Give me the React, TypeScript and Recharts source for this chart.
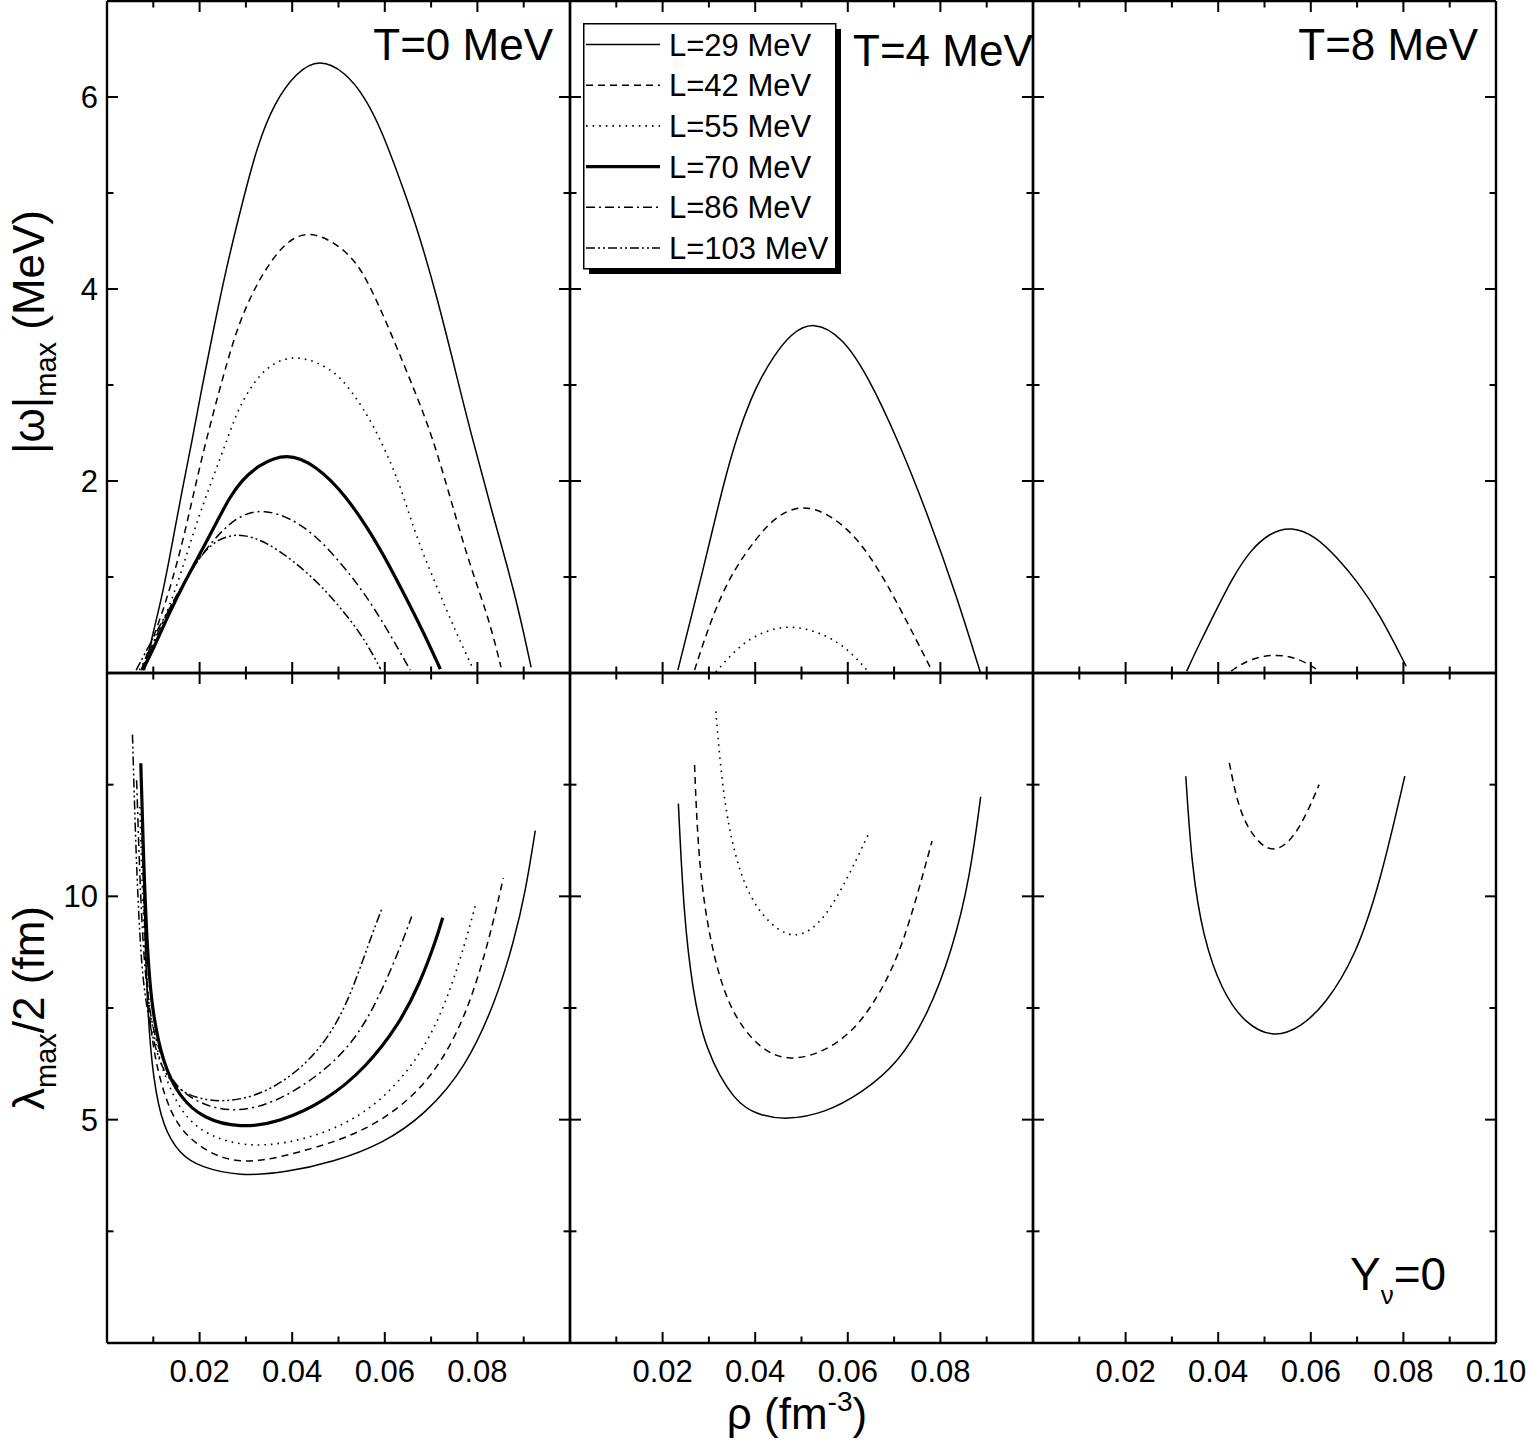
// App.tsx
import React from "react";
import { LineChart, Line, XAxis, YAxis, Legend } from "recharts";

type Pt = [number, number];

// |omega|_max (MeV) against rho (fm^-3)
const omegaT0L29: Pt[] = [
  [0.0081, 0.03], [0.0099, 0.41], [0.012, 0.82], [0.0141, 1.35], [0.0162, 1.9],
  [0.0183, 2.4], [0.0204, 2.95], [0.0231, 3.6], [0.0258, 4.23], [0.0296, 4.97],
  [0.0324, 5.48], [0.036, 5.93], [0.0409, 6.26], [0.0459, 6.4], [0.0515, 6.26],
  [0.0557, 6.0], [0.0593, 5.66], [0.0642, 5.02], [0.0675, 4.55], [0.0711, 3.95],
  [0.0755, 3.1], [0.0783, 2.55], [0.0829, 1.72], [0.0882, 0.82], [0.0916, 0.06],
];
const omegaT0L42: Pt[] = [
  [0.0074, 0.03], [0.0084, 0.17], [0.012, 0.62], [0.0162, 1.31], [0.0204, 2.25],
  [0.0254, 3.15], [0.0283, 3.62], [0.0315, 3.97], [0.0344, 4.22], [0.0387, 4.5],
  [0.0441, 4.62], [0.0517, 4.41], [0.056, 4.13], [0.0617, 3.5], [0.0667, 2.91],
  [0.0703, 2.46], [0.0743, 1.8], [0.0783, 1.13], [0.0826, 0.55], [0.0851, 0.06],
];
const omegaT0L55: Pt[] = [
  [0.007, 0.03], [0.0113, 0.41], [0.0155, 0.96], [0.019, 1.52], [0.0226, 2.0],
  [0.0261, 2.45], [0.0287, 2.8], [0.033, 3.12], [0.0373, 3.27], [0.042, 3.3],
  [0.0488, 3.17], [0.0531, 2.92], [0.0574, 2.6], [0.0617, 2.15], [0.064, 1.85],
  [0.0671, 1.38], [0.0713, 0.89], [0.0755, 0.41], [0.0789, 0.06],
];
const omegaT0L70: Pt[] = [
  [0.0077, 0.03], [0.0099, 0.24], [0.0134, 0.62], [0.0169, 0.96], [0.0204, 1.27],
  [0.024, 1.6], [0.0265, 1.83], [0.029, 2.0], [0.0325, 2.16], [0.0388, 2.3],
  [0.0452, 2.16], [0.0515, 1.86], [0.0586, 1.34], [0.0642, 0.82], [0.0685, 0.41],
  [0.072, 0.04],
];
const omegaT0L86: Pt[] = [
  [0.0074, 0.03], [0.0134, 0.69], [0.0197, 1.2], [0.0254, 1.52], [0.0296, 1.66],
  [0.0339, 1.7], [0.0395, 1.62], [0.0452, 1.43], [0.0508, 1.13], [0.0558, 0.82],
  [0.0607, 0.44], [0.0655, 0.03],
];
const omegaT0L103: Pt[] = [
  [0.0063, 0.03], [0.012, 0.55], [0.0169, 0.96], [0.0204, 1.24], [0.024, 1.4],
  [0.0289, 1.46], [0.0346, 1.36], [0.0402, 1.17], [0.0459, 0.93], [0.0515, 0.62],
  [0.0558, 0.34], [0.0591, 0.04],
];
const omegaT4L29: Pt[] = [
  [0.0233, 0.03], [0.0271, 0.76], [0.0299, 1.31], [0.0334, 2.02], [0.0363, 2.5],
  [0.0391, 2.86], [0.0412, 3.07], [0.044, 3.3], [0.0476, 3.53], [0.0525, 3.67],
  [0.0589, 3.5], [0.0645, 3.08], [0.0709, 2.42], [0.0772, 1.66], [0.0836, 0.79],
  [0.0886, 0.01],
];
const omegaT4L42: Pt[] = [
  [0.0269, 0.03], [0.0306, 0.58], [0.0348, 1.03], [0.0398, 1.38], [0.0447, 1.65],
  [0.0511, 1.77], [0.0589, 1.57], [0.0652, 1.21], [0.0716, 0.65], [0.0781, 0.03],
];
const omegaT4L55: Pt[] = [
  [0.0315, 0.01], [0.037, 0.31], [0.0426, 0.45], [0.0483, 0.5], [0.0553, 0.4],
  [0.0603, 0.24], [0.0645, 0.01],
];
const omegaT8L29: Pt[] = [
  [0.0332, 0.02], [0.036, 0.31], [0.0396, 0.66], [0.0432, 1.0], [0.0468, 1.27],
  [0.0511, 1.46], [0.0558, 1.53], [0.0612, 1.42], [0.0655, 1.21], [0.0698, 0.97],
  [0.0748, 0.62], [0.0806, 0.07],
];
const omegaT8L42: Pt[] = [
  [0.0428, 0.02], [0.0468, 0.15], [0.0525, 0.2], [0.0576, 0.15], [0.0619, 0.02],
];

// lambda_max / 2 (fm) against rho (fm^-3)
const lambdaT0L29: Pt[] = [
  [0.0079, 10.6], [0.0086, 7.51], [0.01, 5.87], [0.0121, 4.83], [0.0157, 4.23],
  [0.02, 3.94], [0.0287, 3.73], [0.0387, 3.82], [0.0488, 4.05], [0.0596, 4.46],
  [0.0689, 5.13], [0.0775, 6.17], [0.084, 7.66], [0.0879, 9.0], [0.0904, 10.11],
  [0.0925, 11.47],
];
const lambdaT0L42: Pt[] = [
  [0.0075, 11.6], [0.0083, 8.5], [0.0093, 7.1], [0.0107, 6.17], [0.0136, 5.13],
  [0.0179, 4.53], [0.0251, 4.08], [0.033, 4.05], [0.043, 4.31], [0.0531, 4.64],
  [0.0617, 5.13], [0.0703, 5.94], [0.0775, 7.28], [0.0825, 9.0], [0.0856, 10.41],
];
const lambdaT0L55: Pt[] = [
  [0.0071, 12.0], [0.008, 8.8], [0.0095, 7.0], [0.0129, 5.8], [0.0172, 4.98],
  [0.0229, 4.6], [0.0301, 4.4], [0.0387, 4.46], [0.0488, 4.75], [0.0588, 5.35],
  [0.0675, 6.39], [0.0732, 7.58], [0.0775, 9.0], [0.0797, 9.85],
];
const lambdaT0L70: Pt[] = [
  [0.0073, 12.98], [0.0079, 10.8], [0.0086, 9.0], [0.0096, 7.5], [0.0121, 6.24],
  [0.0157, 5.5], [0.0208, 5.02], [0.0287, 4.81], [0.0373, 4.94], [0.0473, 5.42],
  [0.056, 6.17], [0.0631, 7.14], [0.0675, 8.03], [0.0711, 9.03], [0.0725, 9.52],
];
const lambdaT0L86: Pt[] = [
  [0.0064, 12.6], [0.0072, 10.0], [0.0082, 8.2], [0.0098, 7.0], [0.0125, 6.2],
  [0.015, 5.72], [0.02, 5.35], [0.0272, 5.16], [0.0358, 5.35], [0.0452, 5.94],
  [0.0531, 6.69], [0.0588, 7.73], [0.064, 9.03], [0.0658, 9.55],
];
const lambdaT0L103: Pt[] = [
  [0.0055, 13.62], [0.0063, 10.8], [0.0071, 9.07], [0.0079, 7.9], [0.01, 6.7],
  [0.0125, 6.0], [0.0157, 5.65], [0.02, 5.46], [0.0251, 5.4], [0.0315, 5.5],
  [0.0387, 5.87], [0.0459, 6.54], [0.0517, 7.51], [0.0567, 9.0], [0.0594, 9.73],
];
const lambdaT4L29: Pt[] = [
  [0.0234, 12.08], [0.0246, 9.54], [0.0265, 7.89], [0.0291, 6.58], [0.0356, 5.37],
  [0.0408, 5.1], [0.0467, 4.99], [0.0551, 5.15], [0.0629, 5.59], [0.0708, 6.25],
  [0.0773, 7.35], [0.0825, 8.77], [0.0864, 10.42], [0.0887, 12.23],
];
const lambdaT4L42: Pt[] = [
  [0.0269, 12.94], [0.0278, 10.64], [0.0304, 8.88], [0.0343, 7.46], [0.0408, 6.58],
  [0.0473, 6.3], [0.0551, 6.52], [0.0616, 7.02], [0.0668, 7.79], [0.072, 8.88],
  [0.0782, 11.24],
];
const lambdaT4L55: Pt[] = [
  [0.0315, 14.14], [0.033, 12.28], [0.0356, 10.86], [0.0395, 9.76], [0.0473, 8.97],
  [0.0538, 9.32], [0.059, 10.2], [0.0645, 11.4],
];
const lambdaT8L29: Pt[] = [
  [0.033, 12.69], [0.0343, 10.64], [0.0367, 9.1], [0.0407, 7.89], [0.0459, 7.13],
  [0.0521, 6.83], [0.0578, 7.07], [0.0631, 7.57], [0.0697, 8.66], [0.075, 10.31],
  [0.0803, 12.69],
];
const lambdaT8L42: Pt[] = [
  [0.0424, 12.99], [0.0446, 11.84], [0.0486, 11.18], [0.0521, 10.99], [0.0558, 11.24],
  [0.0591, 11.84], [0.0618, 12.5],
];

const seriesNames = ["L=29 MeV", "L=42 MeV", "L=55 MeV", "L=70 MeV", "L=86 MeV", "L=103 MeV"];
const panelTitles = ["T=0 MeV", "T=4 MeV", "T=8 MeV"];

const xTicks = [0.01, 0.02, 0.03, 0.04, 0.05, 0.06, 0.07, 0.08, 0.09];
const xTicksLast = [...xTicks, 0.1];
const xLabels = [0.02, 0.04, 0.06, 0.08];
const xLabelsLast = [...xLabels, 0.1];
const omegaTicks = [1, 2, 3, 4, 5, 6];
const omegaLabels = [2, 4, 6];
const lambdaTicks = [2.5, 5, 7.5, 10, 12.5];
const lambdaLabels = [5, 10];

const FONT = "'Liberation Sans', Arial, Helvetica, sans-serif";

const lineLook = [
  { width: 1.5, dash: undefined },
  { width: 1.5, dash: "7 5" },
  { width: 1.6, dash: "1.6 5" },
  { width: 3.2, dash: undefined },
  { width: 1.5, dash: "9 4 2 4" },
  { width: 1.5, dash: "9 3 2 3 2 3" },
];

// layout of the plot areas on the page
const COL_LEFT = [107, 570, 1033];
const PW = 463;
const ROW_TOP = [1, 673];
const ROW_H = [672, 670];
const LW = 100;
const RW = 40;
const TH = 10;
const BH = 60;

const AXIS = { stroke: "#000", strokeWidth: 2.4 };

type Side = "bottom" | "top" | "left" | "right";

const same = (a: number, b: number) => Math.abs(a - b) < 1e-9;

function makeTick(side: Side, majors: number[], labels: number[]) {
  return (props: any) => {
    const { x, y, payload } = props;
    const v: number = payload.value;
    const len = majors.some((m) => same(m, v)) ? 11 : 6.5;
    let l = null;
    if (side === "bottom") l = <line x1={x} y1={y} x2={x} y2={y - len} />;
    if (side === "top") l = <line x1={x} y1={y} x2={x} y2={y + len} />;
    if (side === "left") l = <line x1={x} y1={y} x2={x + len} y2={y} />;
    if (side === "right") l = <line x1={x} y1={y} x2={x - len} y2={y} />;
    const showLabel = labels.some((m) => same(m, v));
    let txt = null;
    if (showLabel && side === "bottom") {
      txt = (
        <text x={x} y={y + 39} textAnchor="middle" fontSize={31} fontFamily={FONT} fill="#000">
          {v.toFixed(2)}
        </text>
      );
    }
    if (showLabel && side === "left") {
      txt = (
        <text x={x - 9} y={y + 11} textAnchor="end" fontSize={31} fontFamily={FONT} fill="#000">
          {String(v)}
        </text>
      );
    }
    return (
      <g stroke="#000" strokeWidth={2}>
        {l}
        <g stroke="none">{txt}</g>
      </g>
    );
  };
}

const LegendBox = () => (
  <svg width={264} height={256} style={{ display: "block" }}>
    <rect x={6} y={6} width={252} height={245} fill="#000" />
    <rect x={0.75} y={0.75} width={252} height={245} fill="#fff" stroke="#000" strokeWidth={1.5} />
    {seriesNames.map((name, i) => {
      const cy = 21.5 + i * 40.7;
      return (
        <g key={name}>
          <line
            x1={3}
            x2={77}
            y1={cy}
            y2={cy}
            stroke="#000"
            strokeWidth={lineLook[i].width}
            strokeDasharray={lineLook[i].dash}
          />
          <text x={86} y={cy + 11} fontSize={31} fontFamily={FONT} fill="#000">
            {name}
          </text>
        </g>
      );
    })}
  </svg>
);

type PanelProps = { row: number; col: number; series: Pt[][]; legend?: boolean };

const Panel = ({ row, col, series, legend }: PanelProps) => {
  const left = COL_LEFT[col] - LW;
  const top = ROW_TOP[row] - TH;
  const ph = ROW_H[row];
  const yTicks = row === 0 ? omegaTicks : lambdaTicks;
  const yLabels = row === 0 ? omegaLabels : lambdaLabels;
  const yMajors = row === 0 ? [2, 4, 6] : [5, 10];
  const yDomain = row === 0 ? [0, 7] : [0, 15];
  const ticksX = col === 2 ? xTicksLast : xTicks;
  const labelsX = row === 1 ? (col === 2 ? xLabelsLast : xLabels) : [];
  const xMajors = xLabelsLast;

  return (
    <div style={{ position: "absolute", left, top }}>
      <LineChart
        width={LW + PW + RW}
        height={TH + ph + BH}
        margin={{ top: 0, right: 0, bottom: 0, left: 0 }}
      >
        <XAxis
          xAxisId="b"
          type="number"
          dataKey="rho"
          domain={[0, 0.1]}
          allowDataOverflow
          ticks={ticksX}
          interval={0}
          height={BH}
          tickSize={0}
          tickMargin={0}
          tickLine={false}
          axisLine={AXIS}
          tick={makeTick("bottom", xMajors, labelsX)}
        />
        <XAxis
          xAxisId="t"
          orientation="top"
          type="number"
          dataKey="rho"
          domain={[0, 0.1]}
          allowDataOverflow
          ticks={ticksX}
          interval={0}
          height={TH}
          tickSize={0}
          tickMargin={0}
          tickLine={false}
          axisLine={AXIS}
          tick={makeTick("top", xMajors, [])}
        />
        <YAxis
          yAxisId="l"
          type="number"
          domain={yDomain}
          allowDataOverflow
          ticks={yTicks}
          interval={0}
          width={LW}
          tickSize={0}
          tickMargin={0}
          tickLine={false}
          axisLine={AXIS}
          tick={makeTick("left", yMajors, col === 0 ? yLabels : [])}
        />
        <YAxis
          yAxisId="r"
          orientation="right"
          type="number"
          domain={yDomain}
          allowDataOverflow
          ticks={yTicks}
          interval={0}
          width={RW}
          tickSize={0}
          tickMargin={0}
          tickLine={false}
          axisLine={AXIS}
          tick={makeTick("right", yMajors, [])}
        />
        {series.map((pts, i) => (
          <Line
            key={seriesNames[i]}
            name={seriesNames[i]}
            data={pts.map(([rho, v]) => ({ rho, v }))}
            dataKey="v"
            xAxisId="b"
            yAxisId="l"
            type="basis"
            stroke="#000"
            strokeWidth={lineLook[i].width}
            strokeDasharray={lineLook[i].dash}
            dot={false}
            activeDot={false}
            isAnimationActive={false}
          />
        ))}
        {legend && (
          <Legend
            layout="vertical"
            align="center"
            verticalAlign="middle"
            content={() => <LegendBox />}
            wrapperStyle={{ position: "absolute", left: 583 - left, top: 23 - top, width: 264, height: 256 }}
          />
        )}
      </LineChart>
    </div>
  );
};

const Titles = () => (
  <svg
    width={1526}
    height={1440}
    style={{ position: "absolute", left: 0, top: 0, pointerEvents: "none" }}
    fontFamily={FONT}
    fill="#000"
  >
    <text x={553} y={60} fontSize={44} textAnchor="end">{panelTitles[0]}</text>
    <text x={853} y={66} fontSize={44}>{panelTitles[1]}</text>
    <text x={1478} y={60} fontSize={44} textAnchor="end">{panelTitles[2]}</text>
    <text x={1350} y={1290} fontSize={46}>
      Y<tspan fontSize={26} dy={14}>ν</tspan>
      <tspan fontSize={46} dy={-14}>=0</tspan>
    </text>
    <text transform="translate(44,332) rotate(-90)" textAnchor="middle" fontSize={44}>
      |ω|<tspan fontSize={29} dy={12}>max</tspan>
      <tspan fontSize={44} dy={-12}> (MeV)</tspan>
    </text>
    <text transform="translate(44,1008) rotate(-90)" textAnchor="middle" fontSize={44}>
      λ<tspan fontSize={29} dy={12}>max</tspan>
      <tspan fontSize={44} dy={-12}>/2 (fm)</tspan>
    </text>
    <text x={797} y={1429} textAnchor="middle" fontSize={44}>
      ρ (fm<tspan fontSize={28} dy={-18}>-3</tspan>
      <tspan fontSize={44} dy={18}>)</tspan>
    </text>
  </svg>
);

export default function App() {
  return (
    <div style={{ position: "absolute", left: 0, top: 0, width: 1526, height: 1440, background: "#fff" }}>
      <Panel row={0} col={0} series={[omegaT0L29, omegaT0L42, omegaT0L55, omegaT0L70, omegaT0L86, omegaT0L103]} legend />
      <Panel row={0} col={1} series={[omegaT4L29, omegaT4L42, omegaT4L55]} />
      <Panel row={0} col={2} series={[omegaT8L29, omegaT8L42]} />
      <Panel row={1} col={0} series={[lambdaT0L29, lambdaT0L42, lambdaT0L55, lambdaT0L70, lambdaT0L86, lambdaT0L103]} />
      <Panel row={1} col={1} series={[lambdaT4L29, lambdaT4L42, lambdaT4L55]} />
      <Panel row={1} col={2} series={[lambdaT8L29, lambdaT8L42]} />
      <Titles />
    </div>
  );
}
